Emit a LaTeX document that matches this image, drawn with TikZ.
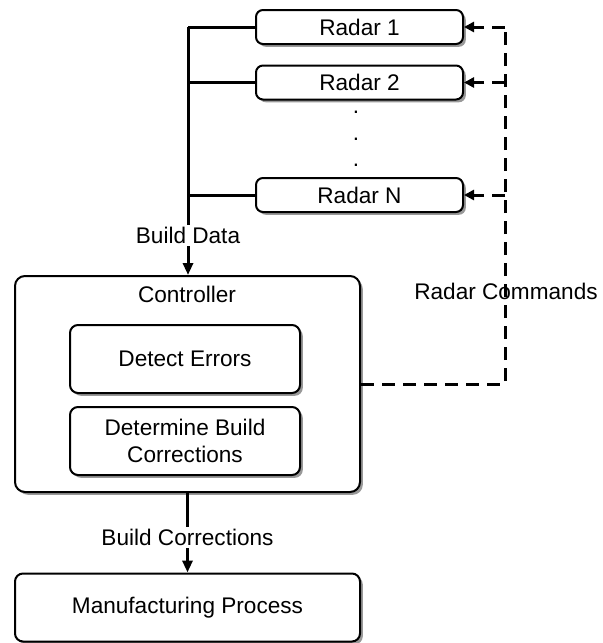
\documentclass[tikz,border=0pt]{standalone}
\usepackage{fontspec}
\setmainfont{Liberation Sans}
\usetikzlibrary{arrows.meta, shadows}
\tikzset{
  block/.style={rectangle, rounded corners=4pt, draw=black, line width=1pt,
    fill=white, font=\fontsize{11.3}{13.6}\selectfont, align=center,
    drop shadow={shadow xshift=1.4pt, shadow yshift=-1.4pt, fill=black!80}},
  radar/.style={block, rounded corners=3.5pt, minimum width=103.5pt, minimum height=17pt},
  task/.style={block, minimum width=115pt, minimum height=34pt},
  flow/.style={-{Triangle[length=6pt, width=5pt]}, line width=1.5pt},
  link/.style={line width=1.5pt},
  cmd/.style={line width=1.5pt, dash pattern=on 6.5pt off 4pt},
  flabel/.style={font=\fontsize{11.3}{13.6}\selectfont, fill=white, inner sep=1pt}
}
\begin{document}
\begin{tikzpicture}[x=0.5pt, y=-0.5pt]
\useasboundingbox (0,0) rectangle (602,643);

% Radars
\node[radar] (radar1) at (359.5, 27)  {Radar 1};
\node[radar] (radar2) at (359.5, 82.5) {Radar 2};
\node[radar] (radarN) at (359.5, 195) {Radar N};
\foreach \y/\n in {114/a, 141/b, 167/c}
  \node[anchor=south, inner sep=0pt, font=\fontsize{11.3}{13.6}\selectfont] (dot\n) at (356,\y) {.};

% Controller
\node[block, rounded corners=5pt, minimum width=172.5pt, minimum height=108pt] (ctrl) at (187.5, 384) {};
\node[font=\fontsize{11.3}{13.6}\selectfont] (ctrltitle) at (187, 294) {Controller};
\node[task] (detect) at (185, 359) {Detect Errors};
\node[task] (corr)   at (185, 441) {Determine Build\\Corrections};

% Manufacturing
\node[block, minimum width=172.5pt, minimum height=34pt] (mfg) at (187.5, 607.5) {Manufacturing Process};

% ── Build data bus ──────────────────────────────────────────────
\coordinate (bustop) at (188, 27);
\draw[link] (radar1.west) -- (bustop);
\draw[link] (radar2.west) -- (radar2.west -| bustop);
\draw[link] (radarN.west) -- (radarN.west -| bustop);
\draw[flow] (bustop) -- (ctrl.north -| bustop)
  node[flabel, pos=0.84] {Build Data};

% ── Radar commands ──────────────────────────────────────────────
\node[font=\fontsize{11.3}{13.6}\selectfont] (cmdlabel) at (506, 291) {Radar Commands};
\coordinate (cmdcorner) at (505, 384);
\coordinate (cmdtop) at (505, 27);
\draw[cmd] (ctrl.east) -- (cmdcorner) -- (cmdtop);
\foreach \r in {radar1, radar2, radarN}
  \draw[cmd, -{Triangle[length=5pt, width=5pt]}] (\r.east -| cmdcorner) -- (\r.east);

% ── Build corrections ──────────────────────────────────────────────
\draw[flow] (mfg.north |- ctrl.south) -- (mfg.north)
  node[flabel, pos=0.556] {Build Corrections};

\end{tikzpicture}
\end{document}
